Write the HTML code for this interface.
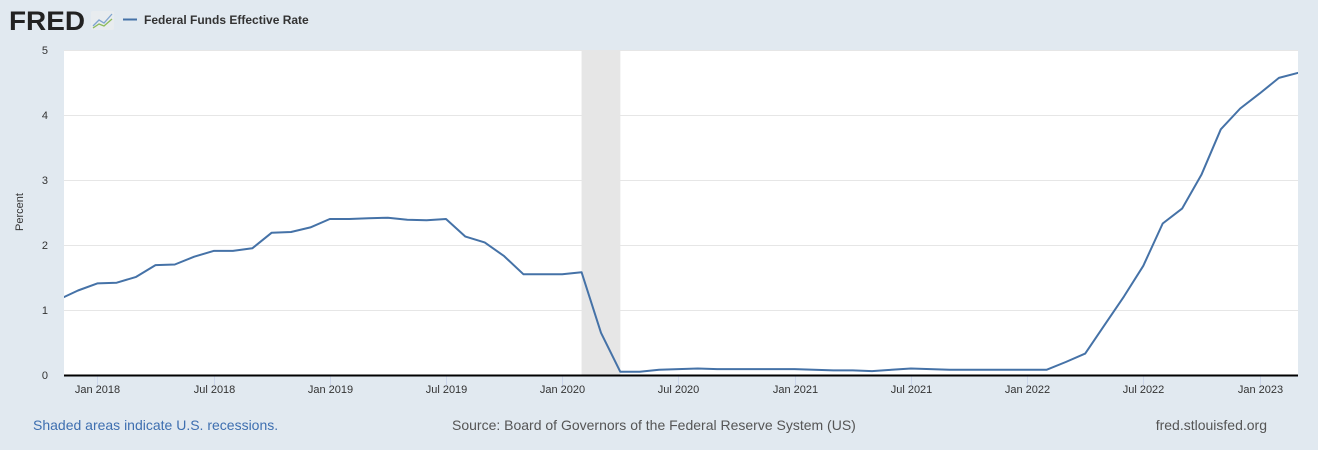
<!DOCTYPE html>
<html><head><meta charset="utf-8"><style>
body{margin:0;background:#e1e9f0;font-family:"Liberation Sans",sans-serif;}
#wrap{position:relative;width:1318px;height:450px;overflow:hidden;background:#e1e9f0}
</style></head><body>
<div id="wrap">
<svg id="svg" width="1318" height="450">
<text x="9" y="30" font-size="27" font-weight="bold" fill="#222" textLength="76" lengthAdjust="spacingAndGlyphs">FRED</text>
<g><rect x="91" y="11" width="23" height="19" fill="#e8ecef" rx="2"/><polyline points="93,26 99,20 104,23 112,14" fill="none" stroke="#7fa4cf" stroke-width="1.3"/><polyline points="93,28 99,24 104,26 112,19" fill="none" stroke="#8dbb5a" stroke-width="1.3"/></g>
<line x1="123" y1="19.5" x2="137" y2="19.5" stroke="#4572a7" stroke-width="2"/>
<text x="144" y="24" font-size="12" font-weight="bold" fill="#333">Federal Funds Effective Rate</text>
<rect x="64" y="50" width="1234" height="325" fill="#fff"/>
<g id="grid"></g>
<g id="rec"></g>
<text transform="translate(23,212) rotate(-90)" text-anchor="middle" font-size="11" fill="#333">Percent</text>
<g id="ticks"></g>
<g id="series"></g>
<line x1="64" y1="375.5" x2="1298" y2="375.5" stroke="#000" stroke-width="2"/>
<text x="33" y="430" font-size="14" fill="#3e6fb0">Shaded areas indicate U.S. recessions.</text>
<text x="452" y="430" font-size="14" fill="#555">Source: Board of Governors of the Federal Reserve System (US)</text>
<text x="1267" y="430" font-size="14" fill="#555" text-anchor="end">fred.stlouisfed.org</text>
</svg></div>
<script>
// months from Nov 2017 (index 0) to Mar 2023
const values=[1.16,1.30,1.41,1.42,1.51,1.69,1.70,1.82,1.91,1.91,1.95,2.19,2.20,2.27,2.40,2.40,2.41,2.42,2.39,2.38,2.40,2.13,2.04,1.83,1.55,1.55,1.55,1.58,0.65,0.05,0.05,0.08,0.09,0.10,0.09,0.09,0.09,0.09,0.09,0.08,0.07,0.07,0.06,0.08,0.10,0.09,0.08,0.08,0.08,0.08,0.08,0.08,0.20,0.33,0.77,1.21,1.68,2.33,2.56,3.08,3.78,4.10,4.33,4.57,4.65];
const yTicks=[0,1,2,3,4,5];
const xTickLabels=["Jan 2018","Jul 2018","Jan 2019","Jul 2019","Jan 2020","Jul 2020","Jan 2021","Jul 2021","Jan 2022","Jul 2022","Jan 2023"];
const xTickMonths=[2,8,14,20,26,32,38,44,50,56,62];
const recessions=[[27,29]];
const NS="http://www.w3.org/2000/svg";
const X=i=>58.6+i*19.37, Y=v=>375-v*65;
function mk(t,a,p){const e=document.createElementNS(NS,t);for(const k in a)e.setAttribute(k,a[k]);document.getElementById(p).appendChild(e);return e;}
yTicks.forEach(v=>{
 if(v>0){const g=mk('line',{x1:64,x2:1298,y1:Y(v)+.5,y2:Y(v)+.5,stroke:'#e6e6e6'},'grid');
 
 }
 const t=mk('text',{x:48,y:Y(v)+4,'font-size':11,fill:'#333','text-anchor':'end'},'ticks');t.textContent=v;
 
 
});
recessions.forEach(r=>{const e=mk('rect',{x:X(r[0]),y:50,width:X(r[1])-X(r[0]),height:325,fill:'#e6e6e6'},'rec');
 
 });
xTickLabels.forEach((l,i)=>{const x=Math.round(X(xTickMonths[i]))+.5;
 const tk=mk('line',{x1:x,x2:x,y1:376,y2:386,stroke:'#ccd6eb'},'ticks');
 
 
 const t=mk('text',{x:x,y:393,'font-size':11,fill:'#333','text-anchor':'middle'},'ticks');t.textContent=l;
 
 });
const cp=mk('clipPath',{id:'cp'},'series');
const cr=document.createElementNS(NS,'rect');cp.appendChild(cr);
cr.setAttribute('x',64);cr.setAttribute('y',40);cr.setAttribute('width',1234);cr.setAttribute('height',340);
const p=mk('polyline',{points:values.map((v,i)=>X(i).toFixed(1)+','+Y(v).toFixed(1)).join(' '),fill:'none',stroke:'#4572a7','stroke-width':2,'clip-path':'url(#cp)','stroke-linejoin':'round'},'series');


</script>
</body></html>
